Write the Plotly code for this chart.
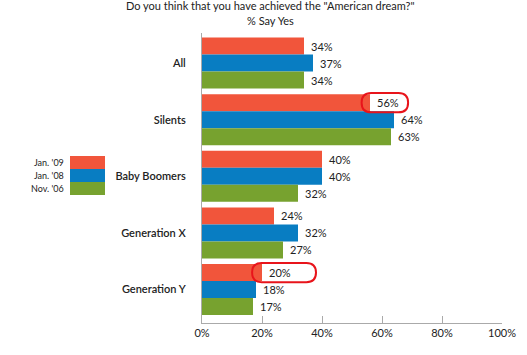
import plotly.graph_objects as go

categories = ["All", "Silents", "Baby Boomers", "Generation X", "Generation Y"]
series_names = ["Jan. '09", "Jan. '08", "Nov. '06"]
jan09 = [34, 56, 40, 24, 20]
jan08 = [37, 64, 40, 32, 18]
nov06 = [34, 63, 32, 27, 17]
x_ticks = [0, 20, 40, 60, 80, 100]
x_tick_labels = ["0%", "20%", "40%", "60%", "80%", "100%"]
colors = ["#F1553B", "#087DC2", "#77A22F"]
# highlighted labels: (category index, series index, left pad, right pad)
highlights = [(1, 0, 2.8, 12.7), (4, 0, 3.3, 18.0)]

W, H = 527, 355
ML, MR, MT, MB = 202, 25, 33, 32
plot_h = H - MT - MB
plot_w = W - ML - MR

values = [jan09, jan08, nov06]
ypos = list(range(len(categories)))
bargap = 0.1
bw = (1 - bargap) / 3
offsets = [-bw, 0, bw]

fig = go.Figure()
for name, vals, col in zip(series_names, values, colors):
    fig.add_trace(go.Bar(x=vals, y=ypos, orientation="h", name=name,
                         marker=dict(color=col, line=dict(width=0)),
                         showlegend=False, hoverinfo="skip"))

annotations = []
for s, vals in enumerate(values):
    for i, v in enumerate(vals):
        annotations.append(dict(x=v, y=i + offsets[s], xref="x", yref="y",
                                text=f"{v}%", showarrow=False, xanchor="left",
                                xshift=5, font=dict(size=11, color="#222")))

shapes = []
ry = 0.17
for ci, si, lp, rp in highlights:
    v = values[si][ci]
    x0, x1 = v - lp, v + rp
    yc = ci + offsets[si]
    y0, y1 = yc - ry, yc + ry
    rx = ry * 56.6 / 3.0
    path = (f"M {x0+rx},{y0} L {x1-rx},{y0} Q {x1},{y0} {x1},{yc} "
            f"Q {x1},{y1} {x1-rx},{y1} L {x0+rx},{y1} Q {x0},{y1} {x0},{yc} "
            f"Q {x0},{y0} {x0+rx},{y0} Z")
    shapes.append(dict(type="path", path=path, xref="x", yref="y",
                       line=dict(color="#E8141B", width=2), fillcolor="rgba(0,0,0,0)",
                       layer="above"))

# custom legend (label left of swatch)
def px_x(p):
    return (p - ML) / plot_w
def px_y(p):
    return (H - MB - p) / plot_h

top = 156
sh = 13
for k, (name, col) in enumerate(zip(series_names, colors)):
    y0 = top + k * sh
    shapes.append(dict(type="rect", xref="paper", yref="paper",
                       x0=px_x(70), x1=px_x(105), y0=px_y(y0 + sh), y1=px_y(y0),
                       fillcolor=col, line=dict(width=0)))
    annotations.append(dict(xref="paper", yref="paper", x=px_x(66), y=px_y(y0 + sh / 2),
                            text=name, showarrow=False, xanchor="right", yanchor="middle",
                            font=dict(size=9, color="#222")))

annotations.append(dict(xref="paper", yref="paper", x=px_x(270), y=px_y(6),
                        text='Do you think that you have achieved the "American dream?"',
                        showarrow=False, xanchor="center", yanchor="middle",
                        font=dict(size=11, color="#222")))
annotations.append(dict(xref="paper", yref="paper", x=px_x(270), y=px_y(20),
                        text="% Say Yes", showarrow=False, xanchor="center", yanchor="middle",
                        font=dict(size=11, color="#222")))

fig.update_layout(
    width=W, height=H,
    margin=dict(l=ML, r=MR, t=MT, b=MB, pad=0),
    plot_bgcolor="white", paper_bgcolor="white",
    barmode="group", bargap=bargap, bargroupgap=0,
    font=dict(family="Lato, Open Sans, sans-serif", size=11, color="#222"),
    xaxis=dict(range=[0, 100], tickvals=x_ticks, ticktext=x_tick_labels,
               showgrid=False, zeroline=False, showline=True, linecolor="#AAAAAA",
               linewidth=1, ticks="inside", ticklen=7, tickcolor="#AAAAAA",
               tickfont=dict(size=11, color="#222"), fixedrange=True),
    yaxis=dict(range=[4.59, -0.53], tickvals=ypos, ticktext=categories,
               showgrid=False, zeroline=False, showline=True, linecolor="#AAAAAA",
               linewidth=1, ticks="", ticklabelstandoff=13,
               tickfont=dict(size=11, color="#222", weight=600), fixedrange=True),
    shapes=shapes, annotations=annotations,
)

fig.write_html("out.html", config={"displayModeBar": False},
               post_script="document.body.style.margin='0px';")
